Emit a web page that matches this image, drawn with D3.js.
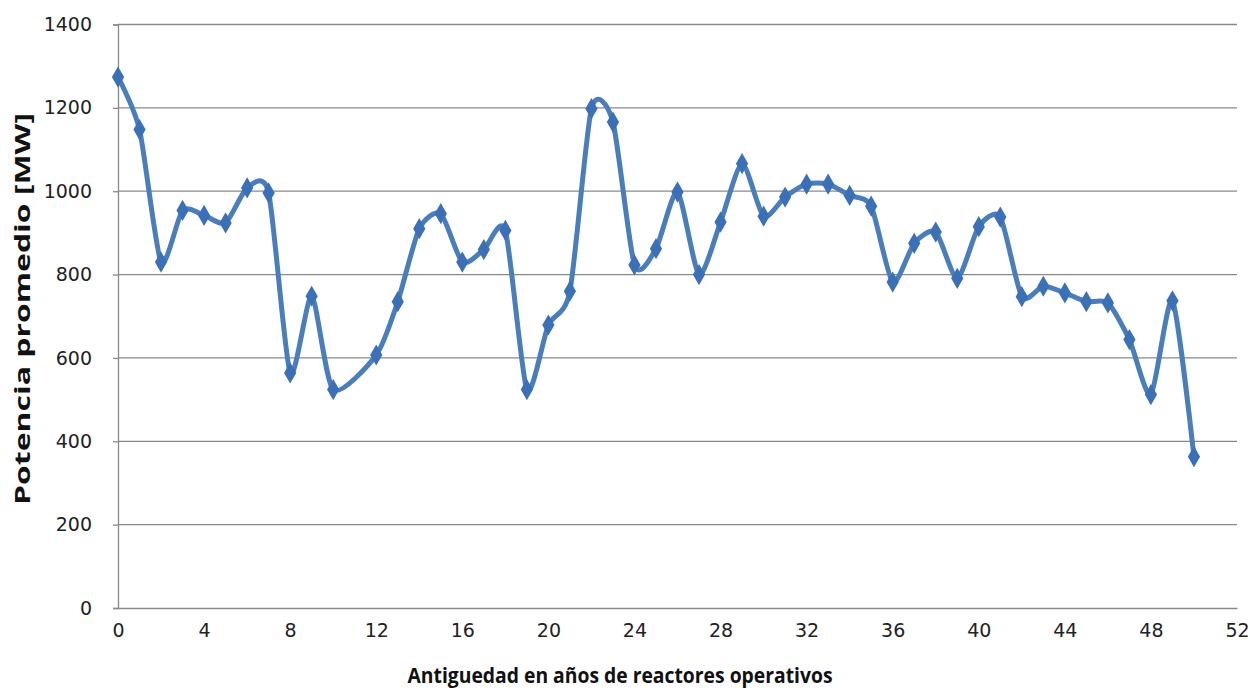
<!DOCTYPE html>
<html>
<head>
<meta charset="utf-8">
<script src="https://cdn.jsdelivr.net/npm/d3@7"></script>
<style>
  html, body { margin: 0; padding: 0; background: #ffffff; }
  svg { display: block; }
</style>
</head>
<body>
<svg id="chart" width="1250" height="691"></svg>
<script>
// Data
const years = [0,1,2,3,4,5,6,7,8,9,10,12,13,14,15,16,17,18,19,20,21,22,23,24,25,26,27,28,29,30,31,32,33,34,35,36,37,38,39,40,41,42,43,44,45,46,47,48,49,50];
const power = [1274,1148,830,954,942,924,1008,996,564,748,524,607,735,910,946,830,860,906,524,679,760,1198,1166,823,862,998,800,926,1066,940,986,1017,1017,990,964,782,875,902,791,915,938,747,772,756,735,732,644,512,737,363];
const xTicks = [0,4,8,12,16,20,24,28,32,36,40,44,48,52];
const yTicks = [0,200,400,600,800,1000,1200,1400];
const xTitle = "Antiguedad en años de reactores operativos";
const yTitle = "Potencia promedio [MW]";

const svg = d3.select("#chart");
const x = d3.scaleLinear().domain([0, 52]).range([118, 1237]);
const y = d3.scaleLinear().domain([0, 1400]).range([608, 24.5]);

// gridlines
svg.append("g")
  .selectAll("line")
  .data(yTicks.filter(d => d > 0))
  .join("line")
  .attr("x1", x(0)).attr("x2", x(52))
  .attr("y1", d => y(d)).attr("y2", d => y(d))
  .attr("stroke", "#8a8a8a").attr("stroke-width", 1.3);

// y axis
const yAxis = svg.append("g")
  .attr("transform", `translate(${x(0)},0)`)
  .call(d3.axisLeft(y).tickValues(yTicks).tickFormat(d3.format("d")).tickSize(5).tickPadding(21));
yAxis.select(".domain").attr("stroke", "#8a8a8a").attr("stroke-width", 1.3);
yAxis.selectAll(".tick line").attr("stroke", "#8a8a8a").attr("stroke-width", 1.3);
yAxis.selectAll("text")
  .attr("font-family", "DejaVu Sans, Verdana, sans-serif")
  .attr("font-size", 19).attr("fill", "#222");

// x axis
const xAxis = svg.append("g")
  .attr("transform", `translate(0,${y(0)})`)
  .call(d3.axisBottom(x).tickValues(xTicks).tickFormat(d3.format("d")).tickSize(0).tickPadding(16));
xAxis.select(".domain").attr("stroke", "#8a8a8a").attr("stroke-width", 1.3);
xAxis.selectAll("text")
  .attr("font-family", "DejaVu Sans, Verdana, sans-serif")
  .attr("font-size", 19).attr("fill", "#222");

// series
const pts = years.map((d, i) => ({ yr: d, v: power[i] }));
const line = d3.line()
  .x(d => x(d.yr)).y(d => y(d.v))
  .curve(d3.curveCardinal.tension(0.3));

svg.append("path")
  .datum(pts)
  .attr("d", line)
  .attr("fill", "none")
  .attr("stroke", "#4a7ebb")
  .attr("stroke-width", 5)
  .attr("stroke-linejoin", "round");

const sym = d3.symbol().type(d3.symbolDiamond).size(130);
svg.append("g")
  .selectAll("path")
  .data(pts)
  .join("path")
  .attr("transform", d => `translate(${x(d.yr)},${y(d.v)})`)
  .attr("d", sym)
  .attr("fill", "#3c70b6");

// titles
svg.append("text")
  .attr("x", 620).attr("y", 683)
  .attr("text-anchor", "middle")
  .attr("font-family", "Open Sans, sans-serif")
  .attr("font-weight", "bold")
  .attr("font-size", 22)
  .attr("textLength", 425)
  .attr("lengthAdjust", "spacingAndGlyphs")
  .attr("fill", "#111")
  .text(xTitle);

svg.append("text")
  .attr("transform", "translate(30,309) rotate(-90)")
  .attr("text-anchor", "middle")
  .attr("font-family", "Open Sans, sans-serif")
  .attr("font-weight", "bold")
  .attr("font-size", 22)
  .attr("textLength", 392)
  .attr("lengthAdjust", "spacingAndGlyphs")
  .attr("fill", "#111")
  .text(yTitle);
</script>
</body>
</html>
